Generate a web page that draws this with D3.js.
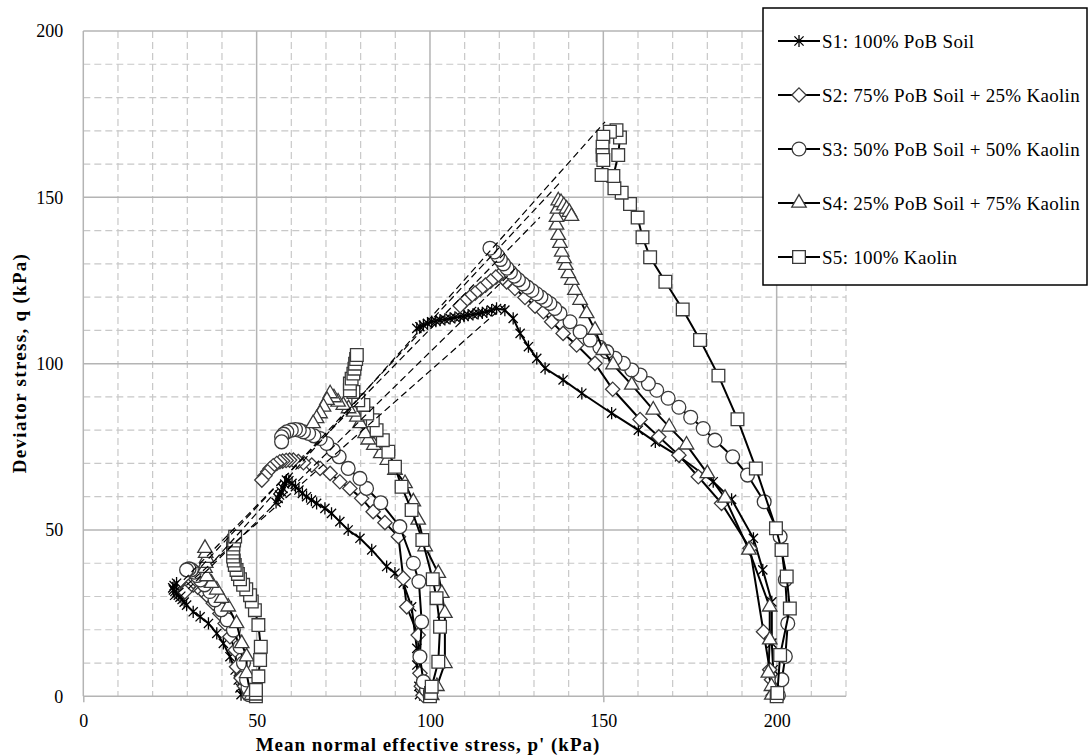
<!DOCTYPE html>
<html>
<head>
<meta charset="utf-8">
<script src="https://cdn.jsdelivr.net/npm/d3@7"></script>
<style>
  body { margin: 0; background: #fff; }
  svg { display: block; }
  text { font-family: "Palatino Linotype", "Book Antiqua", Palatino, "Liberation Serif", serif; fill: #000; }
</style>
</head>
<body>
<svg width="1089" height="756"></svg>
<script>
// series labels
const seriesNames = [
  "S1: 100% PoB Soil",
  "S2: 75% PoB Soil + 25% Kaolin",
  "S3: 50% PoB Soil + 50% Kaolin",
  "S4: 25% PoB Soil + 75% Kaolin",
  "S5: 100% Kaolin"
]

// stress paths [p', q] for confining 50, 100, 200 kPa
const s1_50 = [[45.5,0.5],[45.2,2.5],[44.7,4.9],[43.8,7.9],[42.3,11.9],[40.4,15.9],[38.5,18.9],[36.1,21.9],[33.7,23.9],[31.7,25.4],[29.8,27.4],[29.1,28.3],[28.5,29.1],[27.9,29.8],[27.4,30.4],[26.9,31],[26.4,31.5],[26,32],[25.8,32.6],[26.2,33.3],[26.9,34]]
const s1_100 = [[97,0.5],[96.8,3],[96.2,9.4],[96.2,14.4],[94.7,26.9],[92.3,34],[89.9,37],[87.5,39],[83.2,44],[79.8,47.5],[76.4,50],[74,52.5],[71.6,55],[69.7,56.5],[67.3,58],[65.8,59],[64.4,60],[63.2,61],[62.2,62],[61.2,63],[60.2,64],[59.3,64.8],[58.6,65],[58.1,63.8],[57.6,62.5],[57.1,61.5],[56.6,60.5],[56.2,59.5],[55.6,58.3]]
const s1_200 = [[199.5,0.3],[199,8],[198.6,16],[198.6,28.4],[196,38],[193.3,47.5],[187,59.2],[181.7,64.5],[172,72],[165,76.5],[160.1,80],[152.4,85.1],[143.8,91.1],[138.4,95.1],[133.2,98.6],[130.8,101.6],[128.4,105.1],[126,109.1],[124,113.6],[121.6,116.1],[119.2,116.6],[117.8,116.1],[116.4,115.6],[115.1,115.3],[113.9,115.1],[112.4,114.8],[111,114.6],[109.8,114.3],[108.7,114.1],[107.2,113.9],[105.8,113.6],[104.3,113.3],[102.9,113.1],[101.7,112.8],[100.5,112.6],[99.3,112.1],[98.1,111.6],[97.1,111.1],[96.2,110.6]]

const s2_50 = [[48,0.5],[46.5,3],[45.5,5.5],[44.2,8.9],[43.8,13.9],[42.3,17.9],[40.9,21.9],[39.4,24.9],[37.5,28],[35.6,30.4],[34.1,32],[33,32.8],[31.7,33.5],[30.9,33.5],[30.3,33],[29.8,32.2],[29.3,31.4]]
const s2_100 = [[98,0.3],[97.5,3],[97.1,6.9],[96.6,18.4],[93.3,26.9],[92.3,35.5],[90.9,48],[87,52.2],[83.6,55.5],[80.3,59.5],[76.9,62.5],[74,64.5],[71.2,67],[68.3,68.5],[65.9,69.5],[63.5,70.2],[62,70.6],[60.6,71],[59.5,71],[58.5,70.9],[57.5,70.7],[56.7,70.5],[55.8,70],[54.8,69.3],[53.9,68.5],[53.2,67.5],[52.4,66.3],[51.5,65]]
const s2_200 = [[199,0.3],[198.5,5],[198,8],[196.2,19.4],[192.3,44.5],[184.1,58],[177.4,66],[171.8,72.5],[166,78],[160.6,83.2],[152.7,92.3],[147.6,100.1],[142.3,105.6],[138.4,109.1],[135.1,112.6],[132.7,115.6],[130.3,117.3],[127.4,119.9],[124.5,122.6],[122.1,124.6],[121,125.8],[120.2,126.8],[119,126],[117.5,124.8],[116,123.6],[114.5,122.4],[113,121.2],[111.5,120],[110,118.7],[108.7,117.4]]

const s3_50 = [[47.8,0.5],[47.5,2.5],[47.1,4.9],[46.2,10],[45.2,14.9],[43.3,19.9],[41.5,23],[39.8,26],[38,29],[36.5,31.5],[35,33.5],[33.8,35],[32.8,36.3],[32,37.3],[31.2,38],[30.5,38.3],[29.8,38]]
const s3_100 = [[100,0.3],[99,2],[98.1,4.4],[97.1,11.9],[97.6,22.4],[96.8,34.5],[95.2,40],[91.3,51],[85.8,58.2],[81.7,62.5],[79.8,65.5],[76.4,68.5],[73.8,72],[72.1,74],[70.2,76],[68.3,77.5],[66.5,78.3],[65,79],[63.5,79.5],[62.3,80],[61.2,80.2],[60,80],[58.7,79.5],[57.8,78.8],[57.2,78],[57.2,76.5]]
const s3_200 = [[200.5,0.3],[201.5,5],[202.5,12],[203.2,21.9],[202.5,35],[201,48],[196.4,58.5],[191.6,66.5],[187.3,72],[182.2,77],[178.8,80.5],[175.2,83.9],[171.8,86.9],[168.7,89.6],[165.4,92],[163,94],[160.6,96.6],[158.2,98.1],[155.8,100.1],[153.4,101.6],[151,103.6],[149,104.9],[146.2,107.1],[143.3,109.6],[140.4,112.6],[137.5,115.1],[136,116.6],[134.6,118.1],[133.3,119],[132,120],[130.7,121],[129.4,122],[128.1,123],[126.8,124],[125.5,125.2],[124.3,126.3],[123.2,127.5],[122.2,128.7],[121.2,130],[120.3,131.3],[119.5,132.5],[118.6,133.6],[117.3,134.7]]

const s4_50 = [[48.5,0.3],[48.1,1.4],[47.1,6.9],[47.1,11.9],[45.7,15.9],[44.2,21.9],[41.8,26.9],[39.9,29.5],[38.5,32],[37,34],[35.6,36],[35.1,38.5],[35.3,40],[35.6,41.5],[35.3,43],[35.1,44.5]]
const s4_100 = [[100.5,0.3],[102,3],[104.3,9.9],[104.3,25],[103.4,31],[102.4,37],[98.6,45],[96.6,53],[95.2,58.5],[92.8,64],[89.9,68],[87.7,71],[85.8,73],[83.8,75.5],[82.2,77.1],[81.3,79],[79.8,82],[78.9,84],[78,85.5],[76.5,86.5],[75,87.5],[73.5,88.5],[72.3,89.8],[71.2,91],[70.3,89],[69.3,87],[68.3,85],[67.3,83.5],[66.3,82]]
const s4_200 = [[198.6,0.4],[198.5,3],[197.6,7],[198,17],[198,26.9],[192,44],[185.1,59.6],[180,67],[174,75.6],[169,81],[164.4,86.1],[158.2,93.6],[152.8,99.7],[150,104],[147.6,110.1],[145.2,115.1],[143.3,119.1],[141.8,122.1],[140.9,125.1],[139.9,127.1],[139.2,129.6],[138.7,131.6],[138,133.6],[137.5,136.2],[137,138.6],[136.5,141.7],[136.5,144],[136.8,146.5],[137,149],[137.8,148.5],[138.6,147.5],[139.4,146.5],[140.2,145.5],[140.8,144.3]]

const s5_50 = [[49.8,0],[49.8,0.8],[49.8,1.9],[50.5,6],[51,10.9],[51.2,14.9],[50.5,21.4],[49.5,25.9],[48.6,28.5],[48.1,30.4],[47,32.2],[46.1,33.5],[45.2,35.2],[44.6,36.8],[44.2,38],[43.7,39.5],[43.4,40.8],[43.2,42],[43.2,43.2],[43.2,44.4],[43.3,45.6],[43.5,46.8],[43.8,48]]
const s5_100 = [[100,0],[100.3,1],[100.5,2.9],[102.4,10.4],[102.9,20.9],[101.9,29.5],[100.8,35.2],[97.8,47],[94.7,56],[91.8,63],[89.9,69],[88,73.5],[86.4,77],[84.6,80],[83.5,83],[81.9,85],[80.8,87.6],[79.3,89],[77.9,91.5],[76.9,92],[76.9,94],[77.4,95.5],[77.9,97],[78.2,98.5],[78.4,100],[78.7,101.4],[78.9,102.6]]
const s5_200 = [[200,0],[200.2,1],[201,12.4],[203.8,26.4],[202.9,36],[201.4,44],[199.8,50.5],[194,68.5],[188.7,83.3],[183.2,96.4],[177.9,107.1],[172.9,116.3],[167.9,124.6],[163.5,132],[161.3,138],[159.9,143.9],[157.7,148],[155.3,151.4],[153.2,152.7],[152.9,156.4],[154.3,162.7],[154.8,168],[153.8,170.2],[151.9,169.7],[150,168.2],[149.8,165.2],[149.8,162.7],[150,161.2],[149.5,156.7]]

// dashed failure lines, [start, end] per series
const failureLines = [
  [[25, 29], [122, 118]],
  [[28, 30], [126, 130]],
  [[29, 35], [131.7, 144]],
  [[34, 39], [138, 155]],
  [[38, 41], [150.5, 172.7]]
]

const xTicks = [0, 50, 100, 150, 200]
const yTicks = [0, 50, 100, 150, 200]

const paths = [
  [s1_50, s1_100, s1_200],
  [s2_50, s2_100, s2_200],
  [s3_50, s3_100, s3_200],
  [s4_50, s4_100, s4_200],
  [s5_50, s5_100, s5_200]
]

const svg = d3.select("svg")
const plot = {left: 83.3, right: 846, top: 31, bottom: 696.3}

const x = d3.scaleLinear().domain([0, 220]).range([plot.left, plot.right])
const y = d3.scaleLinear().domain([0, 200]).range([plot.bottom, plot.top])

// minor grid (dashed every 10)
const grid = svg.append("g")
grid.selectAll(".vminor")
  .data(d3.range(10, 221, 10).filter(v => v % 50 !== 0))
  .enter().append("line")
  .attr("x1", d => x(d)).attr("x2", d => x(d))
  .attr("y1", plot.top).attr("y2", plot.bottom)
  .attr("stroke", "#c8c8c8").attr("stroke-width", 1.2).attr("stroke-dasharray", "7,4")
grid.selectAll(".hminor")
  .data(d3.range(10, 200, 10).filter(v => v % 50 !== 0))
  .enter().append("line")
  .attr("x1", plot.left).attr("x2", plot.right)
  .attr("y1", d => y(d)).attr("y2", d => y(d))
  .attr("stroke", "#c8c8c8").attr("stroke-width", 1.2).attr("stroke-dasharray", "7,4")

// major grid
grid.selectAll(".vmajor")
  .data(xTicks)
  .enter().append("line")
  .attr("x1", d => x(d)).attr("x2", d => x(d))
  .attr("y1", plot.top).attr("y2", plot.bottom)
  .attr("stroke", "#b4b4b4").attr("stroke-width", 1.5)
grid.selectAll(".hmajor")
  .data(yTicks)
  .enter().append("line")
  .attr("x1", plot.left).attr("x2", plot.right)
  .attr("y1", d => y(d)).attr("y2", d => y(d))
  .attr("stroke", "#b4b4b4").attr("stroke-width", 1.5)

// axes
const xAxis = svg.append("g")
  .attr("transform", `translate(0, ${plot.bottom})`)
  .call(d3.axisBottom(x).tickValues(xTicks).tickSize(6).tickPadding(12))
xAxis.select(".domain").remove()
xAxis.selectAll("line").attr("stroke", "#b4b4b4").attr("stroke-width", 1.5)
xAxis.selectAll("text").attr("font-size", 18).attr("font-family", null)

const yAxis = svg.append("g")
  .attr("transform", `translate(${plot.left}, 0)`)
  .call(d3.axisLeft(y).tickValues(yTicks).tickSize(0).tickPadding(20))
yAxis.select(".domain").remove()
yAxis.selectAll("text").attr("font-size", 18).attr("font-family", null)

svg.append("text")
  .attr("x", 428).attr("y", 751)
  .attr("text-anchor", "middle")
  .attr("font-size", 19).attr("font-weight", "bold")
  .attr("letter-spacing", 1)
  .text("Mean normal effective stress, p' (kPa)")

svg.append("text")
  .attr("transform", "translate(26, 363) rotate(-90)")
  .attr("text-anchor", "middle")
  .attr("font-size", 19).attr("font-weight", "bold")
  .attr("letter-spacing", 1.3)
  .text("Deviator stress, q (kPa)")

// star marker: an X with a vertical bar, as in the original
const symbolStar = {
  draw(context, size) {
    const r = Math.sqrt(size) * 0.5
    const d = r * 0.75
    context.moveTo(0, -r); context.lineTo(0, r)
    context.moveTo(-d, -d); context.lineTo(d, d)
    context.moveTo(-d, d); context.lineTo(d, -d)
  }
}

// markers
const symbols = [
  d3.symbol().type(symbolStar).size(150),
  d3.symbol().type(d3.symbolDiamond2).size(130),
  d3.symbol().type(d3.symbolCircle).size(150),
  d3.symbol().type(d3.symbolTriangle2).size(150),
  d3.symbol().type(d3.symbolSquare2).size(205)
]

function drawMarker(sel, i) {
  sel.attr("d", symbols[i]())
    .attr("fill", i === 0 ? "none" : "#fff")
    .attr("stroke", i === 0 ? "#000" : "#3a3a3a")
    .attr("stroke-width", 1.3)
}

const line = d3.line().x(d => x(d[0])).y(d => y(d[1]))

paths.forEach((tests, i) => {
  const g = svg.append("g").attr("class", "series s" + (i + 1))
  tests.forEach(pts => {
    g.append("path")
      .attr("d", line(pts))
      .attr("fill", "none")
      .attr("stroke", "#000")
      .attr("stroke-width", 2)
    g.selectAll(null)
      .data(pts)
      .enter().append("path")
      .attr("transform", d => `translate(${x(d[0])}, ${y(d[1])})`)
      .call(drawMarker, i)
  })
})

// dashed failure lines
svg.append("g")
  .selectAll("path")
  .data(failureLines)
  .enter().append("path")
  .attr("d", d => line(d))
  .attr("fill", "none")
  .attr("stroke", "#000")
  .attr("stroke-width", 1.2)
  .attr("stroke-dasharray", "7,4")

// legend
const legend = svg.append("g")
legend.append("rect")
  .attr("x", 763).attr("y", 8)
  .attr("width", 324).attr("height", 277)
  .attr("fill", "#fff").attr("stroke", "#000").attr("stroke-width", 1.5)

const item = legend.selectAll(".item")
  .data(seriesNames)
  .enter().append("g")
  .attr("transform", (d, i) => `translate(0, ${41 + i * 54})`)
item.append("line")
  .attr("x1", 778).attr("x2", 820)
  .attr("stroke", "#000").attr("stroke-width", 2)
item.append("path")
  .attr("transform", "translate(799, 0)")
  .each(function (d, i) { d3.select(this).call(drawMarker, i) })
item.append("text")
  .attr("x", 822).attr("dy", "0.35em")
  .attr("font-size", 19)
  .attr("letter-spacing", 0.3)
  .text(d => d)
</script>
</body>
</html>
